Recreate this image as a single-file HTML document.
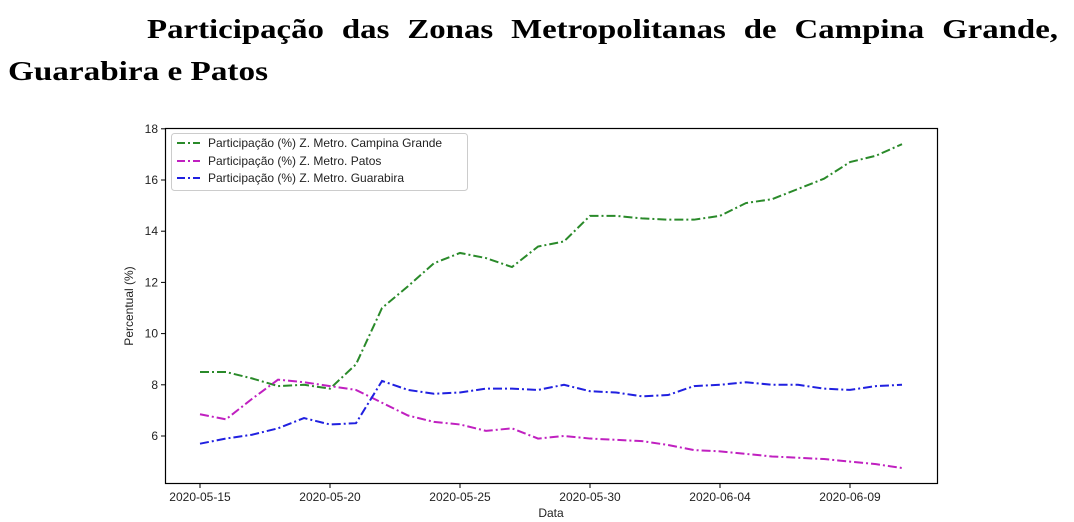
<!DOCTYPE html>
<html><head><meta charset="utf-8"><style>
body{margin:0;background:#fff;width:1074px;height:522px;overflow:hidden}
svg{display:block}
</style></head><body>
<svg id="s" width="1074" height="522" xmlns="http://www.w3.org/2000/svg" font-family="Liberation Sans, DejaVu Sans, sans-serif">
<text x="147" y="38" font-family="Liberation Serif, serif" font-weight="bold" font-size="27" textLength="911" lengthAdjust="spacingAndGlyphs" word-spacing="8">Participação das Zonas Metropolitanas de Campina Grande,</text>
<text x="8" y="80" font-family="Liberation Serif, serif" font-weight="bold" font-size="27" textLength="260" lengthAdjust="spacingAndGlyphs">Guarabira e Patos</text>
<g id="plot"></g>
<rect x="165.5" y="128.5" width="772" height="355" fill="none" stroke="#000" stroke-width="1.2"/>
<g font-size="12" fill="#222" text-anchor="end" id="yt"></g>
<g font-size="12" fill="#222" text-anchor="middle" id="xt"></g>
<text x="551" y="517" font-size="12" text-anchor="middle" fill="#222">Data</text>
<text transform="translate(133,306) rotate(-90)" font-size="12" text-anchor="middle" fill="#222">Percentual (%)</text>
<rect x="171.5" y="133.5" width="296" height="57" rx="3" fill="#fff" stroke="#ccc"/>
<g font-size="12" fill="#222">
<line x1="177" y1="143" x2="200" y2="143" stroke="#2a8a2a" stroke-width="2" stroke-dasharray="8,3,2,3"/>
<text x="208" y="147">Participação (%) Z. Metro. Campina Grande</text>
<line x1="177" y1="161" x2="200" y2="161" stroke="#c020c0" stroke-width="2" stroke-dasharray="8,3,2,3"/>
<text x="208" y="165">Participação (%) Z. Metro. Patos</text>
<line x1="177" y1="178" x2="200" y2="178" stroke="#2020e0" stroke-width="2" stroke-dasharray="8,3,2,3"/>
<text x="208" y="182">Participação (%) Z. Metro. Guarabira</text>
</g>
</svg>
<script>
var NS="http://www.w3.org/2000/svg";
function Y(v){return 436-(v-6)*25.6;}
function X(d){return 200+d*26;}
var g=[8.5,8.5,8.25,7.95,8.0,7.85,8.8,11.0,11.85,12.75,13.15,12.95,12.6,13.4,13.6,14.6,14.6,14.5,14.45,14.45,14.6,15.1,15.25,15.65,16.05,16.7,16.95,17.4];
var m=[6.85,6.65,7.45,8.2,8.1,7.95,7.8,7.3,6.8,6.55,6.45,6.2,6.3,5.9,6.0,5.9,5.85,5.8,5.65,5.45,5.4,5.3,5.2,5.15,5.1,5.0,4.9,4.75];
var b=[5.7,5.9,6.05,6.3,6.7,6.45,6.5,8.15,7.8,7.65,7.7,7.85,7.85,7.8,8.0,7.75,7.7,7.55,7.6,7.95,8.0,8.1,8.0,8.0,7.85,7.8,7.95,8.0];
var p=document.getElementById("plot");
[[g,"#2a8a2a"],[m,"#c020c0"],[b,"#2020e0"]].forEach(function(s){
 var e=document.createElementNS(NS,"polyline");
 e.setAttribute("points",s[0].map(function(v,i){return X(i)+","+Y(v)}).join(" "));
 e.setAttribute("fill","none");e.setAttribute("stroke",s[1]);e.setAttribute("stroke-width","2");
 e.setAttribute("stroke-dasharray","9,3,2,3");p.appendChild(e);});
var yt=document.getElementById("yt");
for(var v=6;v<=18;v+=2){var y=Y(v);
 var l=document.createElementNS(NS,"line");l.setAttribute("x1",161);l.setAttribute("x2",165);l.setAttribute("y1",y);l.setAttribute("y2",y);l.setAttribute("stroke","#000");yt.appendChild(l);
 var t=document.createElementNS(NS,"text");t.setAttribute("x",158);t.setAttribute("y",y+4);t.textContent=v;yt.appendChild(t);}
var xt=document.getElementById("xt");
var labs=["2020-05-15","2020-05-20","2020-05-25","2020-05-30","2020-06-04","2020-06-09"];
labs.forEach(function(s,i){var x=X(i*5);
 var l=document.createElementNS(NS,"line");l.setAttribute("x1",x);l.setAttribute("x2",x);l.setAttribute("y1",484);l.setAttribute("y2",488);l.setAttribute("stroke","#000");xt.appendChild(l);
 var t=document.createElementNS(NS,"text");t.setAttribute("x",x);t.setAttribute("y",501);t.textContent=s;xt.appendChild(t);});
</script>
</body></html>
